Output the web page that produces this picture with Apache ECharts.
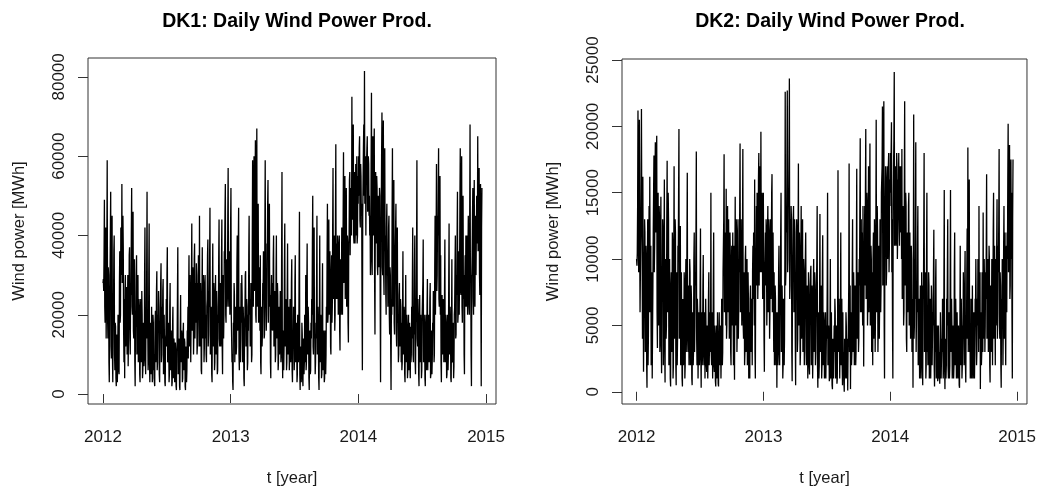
<!DOCTYPE html>
<html>
<head>
<meta charset="utf-8">
<script src="https://cdn.jsdelivr.net/npm/echarts@6/dist/echarts.min.js"></script>
<style>
  html, body { margin: 0; padding: 0; background: #ffffff; }
  #chart { width: 1039px; height: 492px; }
</style>
</head>
<body>
<div id="chart"></div>
<script>
// Daily wind power production in the two Danish price areas.
// One value per day starting 1 Jan 2012, stored in thousands of MWh.
const startYear = 2012;
const stepDays = 1;

// DK1 (West Denmark)
const dk1_2012 = [
  28,29, 26,35, 49,22, 18,34, 42,14, 24,38, 59,20, 14,32, 30,8, 3,22, 28,40, 51,12, 9,33, 45,10, 3,18, 20,36,
  40,10, 6,18, 17,4, 2,14, 15,3, 8,20, 16,6, 5,28, 36,18, 20,42, 40,30, 53,28, 30,45, 37,16, 8,24,
  4,26, 30,12, 12,24, 27,10, 22,30, 7,16, 18,35, 37,14, 10,28, 25,40, 52,22, 20,38, 46,16, 14,30, 34,8,
  2,20, 17,30, 35,10, 12,28, 30,8, 8,24, 22,5, 3,20, 24,8, 11,26, 20,4, 6,18, 17,7, 9,30, 42,12,
  5,20, 14,32, 51,14, 18,6, 10,30, 43,8, 3,18, 16,5, 8,22, 12,3, 4,20, 18,6, 10,3, 2,18, 21,8, 12,26,
  31,6, 8,20, 16,26, 22,5, 3,16, 18,28, 33,8, 10,22, 14,26, 29,5, 6,20, 20,3, 2,14, 15,24, 12,30,
  37,8, 9,18, 12,3, 5,22, 28,6, 8,16, 10,2, 3,17, 22,4, 7,14, 11,3, 4,13, 9,2, 1,11, 13,25,
  37,5, 6,14, 12,2, 1,16, 25,8, 10,16, 14,3, 4,15, 18,6, 8,14, 13,2, 1,12, 11,3, 6,16, 14,22, 9,25,
  35,12, 16,30, 22,8, 8,28, 43,16, 20,32, 26,10, 15,34, 38,14, 22,28, 18,33, 30,10, 12,28, 24,35, 20,12,
  45,12, 14,28, 22,6, 5,24, 37,14, 18,30, 25,8, 12,28, 30,14, 20,10, 8,22, 24,35, 39,12, 15,26, 22,34,
  47,10, 10,22, 20,5, 3,24, 38,12, 16,28, 24,6, 8,25, 30,10, 14,26, 22,5, 6,20, 18,34, 44,14, 12,26,
  28,12, 15,34, 44,12, 5,24, 30,14, 20,36, 35,46, 53,20, 18,34, 30,22, 25,45, 57,26, 22,36, 35,20, 28,42
];
const dk1_2013 = [
  52,20, 20,8, 10,3, 1,18, 15,28, 25,8, 8,22, 18,10, 12,32, 40,16, 20,38, 47,10, 6,20, 22,8, 14,28, 18,30,
  25,8, 10,22, 18,4, 2,18, 20,30, 31,12, 12,24, 22,6, 8,20, 16,35, 45,20, 24,12, 15,28, 20,8, 10,38,
  59,25, 22,48, 60,26, 30,52, 64,20, 18,45, 67,22, 25,42, 48,18, 20,32, 30,16, 35,8, 5,20, 22,12, 15,28,
  25,36, 32,14, 15,40, 59,28, 28,16, 20,38, 35,48, 54,18, 18,38, 48,22, 25,8, 4,24, 30,16, 22,28, 16,34,
  40,12, 12,26, 22,8, 10,30, 40,14, 18,28, 25,6, 8,22, 20,10, 14,26, 24,8, 10,36, 56,12, 4,16, 15,6, 12,32,
  43,12, 12,24, 20,6, 8,26, 38,10, 16,22, 18,6, 10,24, 22,8, 14,28, 34,6, 3,14, 12,22, 18,6, 10,28,
  35,8, 8,18, 14,3, 5,20, 18,8, 12,32, 46,5, 1,12, 10,3, 6,18, 15,4, 2,14, 12,5, 8,20, 16,8,
  30,6, 8,26, 38,10, 12,22, 18,4, 1,14, 16,5, 6,18, 14,24, 20,38, 50,12, 10,30, 42,14, 15,5, 8,18, 14,28,
  45,10, 12,22, 16,4, 1,18, 40,8, 10,20, 14,4, 5,22, 33,6, 8,16, 12,3, 4,16, 15,5, 10,22, 18,34,
  48,18, 20,38, 44,20, 25,36, 30,12, 10,28, 35,18, 22,42, 57,24, 28,40, 32,16, 20,45, 63,24, 30,38, 24,40,
  35,20, 22,38, 40,16, 11,34, 30,20, 25,42, 38,20, 20,45, 61,28, 30,48, 55,24, 24,44, 52,22, 28,40, 36,18,
  13,38, 40,54, 56,35, 35,52, 50,40, 75,44, 45,60, 68,40, 38,56, 55,38, 42,58, 50,40, 60,38, 40,55, 48,60
];
const dk1_2014 = [
  50,62, 65,44, 42,58, 55,45, 48,22, 6,45, 45,62, 68,50, 81.5,48, 52,60, 40,55, 55,62, 65,46, 48,60, 58,45, 50,40,
  45,30, 35,58, 76,36, 30,52, 65,40, 45,60, 67,28, 15,45, 56,38, 40,55, 52,32, 30,50, 48,32, 35,52, 50,22,
  3,38, 45,60, 71,32, 30,56, 69,30, 25,50, 62,36, 40,25, 20,42, 48,30, 35,22, 22,42, 45,20, 15,32, 30,12,
  1,22, 20,45, 62,22, 25,42, 54,18, 15,30, 30,42, 48,16, 12,30, 42,18, 20,8, 10,25, 28,12, 14,24, 22,8,
  18,6, 8,22, 36,10, 12,22, 20,5, 3,18, 30,8, 10,20, 16,4, 6,16, 20,6, 12,18, 8,4, 17,8, 10,22, 14,28,
  42,10, 8,20, 15,32, 40,8, 5,18, 20,35, 59,14, 12,24, 18,5, 2,18, 25,8, 10,20, 14,4, 6,20, 20,28,
  39,8, 8,20, 15,4, 2,18, 20,6, 10,22, 29,6, 6,20, 18,8, 12,24, 28,4, 5,16, 14,5, 9,18, 16,26,
  25,8, 10,32, 45,20, 20,40, 58,26, 30,45, 40,52, 62,24, 22,44, 55,20, 35,8, 3,20, 25,10, 15,24, 20,8, 12,26,
  39,8, 8,20, 15,4, 5,18, 20,6, 10,28, 43,10, 12,22, 18,4, 3,16, 34,8, 9,18, 16,4, 7,20, 22,32,
  40,14, 15,30, 25,40, 51,18, 20,36, 35,20, 30,48, 62,26, 25,45, 60,22, 18,38, 50,24, 30,10, 5,28, 35,22,
  40,22, 25,40, 30,20, 35,45, 45,22, 20,44, 68,28, 30,10, 2,30, 35,45, 52,24, 20,40, 54,28, 22,38, 45,30,
  30,50, 50,38, 65,36, 40,55, 57,30, 25,48, 53,24, 2,42, 52
];

// DK2 (East Denmark)
const dk2_2012 = [
  10,9.5, 10.5,14, 21.2,12, 9,15, 20.5,11, 6,9, 12,16, 21.3,13, 11,4, 16.2,8, 1.5,6, 8,13, 12,3, 4,11, 10,2, 0.3,9,
  13,2, 4,9, 14,6, 16.2,9, 6,11, 2,7, 9,1, 1,8, 12,15, 17.8,9, 11,16, 18.8,12, 14,17, 19.3,6, 3.3,12,
  15,5, 9,14, 13,3, 4,12, 14.7,4, 1.4,9, 8,13, 12,2, 6,11, 16,3, 0.7,10, 10,4, 5,13, 17.4,6, 8,15,
  13,2, 3,10, 10,1, 0.4,8, 9,3, 5,12, 11,1, 2,9, 17,4, 6,13, 12,2, 0.5,9, 8,2, 4,11, 10,15,
  19.8,4, 5,12, 12.5,2, 3,9, 9,1, 0.4,7, 7,2, 4,9, 8,1, 2,8, 10,3, 5,11, 16.5,4, 3,8, 8,2, 6,10,
  9,2, 4,8, 7,1, 0.5,6, 6,2, 3,10, 12,3, 5,9, 8,12, 18.1,4, 2,7, 6,1, 1,6, 5,2, 3,8,
  12.3,3, 0.3,6, 6,2, 3,8, 10.3,3, 2,6, 5,1, 4,7, 7,2, 1.5,5, 5,1, 3,7, 9,2, 2,5, 6,3,
  15,3, 2,6, 5,1, 3,8, 12,2, 1.5,5, 4,0.8, 0.4,4, 5,1, 2,6, 3,0.6, 0.4,4, 6,2, 2,5, 4,1, 3,7,
  6,2, 3,9, 9,13, 17.9,6, 7,12, 12,5, 15.3,4, 5,11, 14,6, 8,13, 13,4, 6,12, 10,3, 2,9, 11,5,
  8,12, 6,2, 11,4, 0.9,9, 14.7,5, 7,13, 12,3, 5,11, 13,4, 6,10, 9,14, 18.7,6, 8,13, 13,5, 7,12,
  18.3,5, 4,9, 8,2, 3,10, 11,3, 5,9, 10,2, 6,9, 7,1, 3,6, 1,7, 8,3, 4,7, 6,2, 9,11,
  7,12, 12,5, 16,3, 1,9, 10,14, 8,15, 14,7, 9,16, 18,8, 12,17, 16,9, 19.6,11, 9,15, 14,7, 11,15
];
const dk2_2013 = [
  15,4, 1.5,9, 10,12, 8,13, 12,5, 7,12, 14,6, 9,13, 11,4, 6,12, 13,7, 10,15, 16.4,6, 8,12, 12,3, 9,2,
  5,8, 7,2, 3,6, 0.3,5, 6,2, 4,9, 11,3, 2,6, 7,12, 15,3, 3,8, 6,1, 2,7, 5,2, 4,10,
  22.6,8, 9,14, 12,17, 22.7,9, 10,15, 14,18, 23.6,7, 8,13, 11,14, 13,3, 0.8,9, 10,13, 14,6, 9,13, 12,4,
  0.5,9, 8,13, 12,3, 4,11, 17.2,5, 7,12, 10,2, 3,10, 14,4, 5,11, 13,3, 6,10, 9,2, 3,8, 8,12,
  12,2, 4,8, 7,1, 3,9, 8,2, 1.3,6, 6,9, 9.5,2, 4,8, 7,1, 3,8, 10,3, 5,9, 8,2, 3,6, 6,10,
  14,2, 0.3,6, 5,1, 2,7, 13.4,3, 4,8, 6,1, 2,9, 11.8,2, 3,6, 5,1, 1.5,5, 6,1, 3,5, 4,8,
  15,2, 2,5, 4,0.8, 1,5, 10,1, 3,6, 2,0.5, 0.2,4, 4,1, 1,5, 3,7, 6,1, 2,5, 4,0.6, 1,6,
  16.7,3, 3,7, 5,1, 1,6, 12,2, 4,7, 2,0.5, 6,2, 3,0.8, 0,4, 4,1, 2,6, 5,1, 1,4, 0.1,3, 3,8,
  17.2,3, 4,8, 0.2,5, 6,2, 3,9, 13,3, 5,9, 7,2, 4,8, 6,2, 3,10, 16.8,4, 5,9, 7,3, 4,10,
  8,14, 19.1,6, 10,13, 6,12, 12,5, 14,9, 1.9,8, 10,14, 8,15, 19.8,7, 11,15, 14,5, 7,13, 17,6, 9,14,
  18.7,5, 6,11, 10,3, 5,9, 2,10, 12,4, 8,13, 11,3, 6,12, 20.5,6, 9,14, 12,3, 5,11, 10,4, 7,13,
  12,6, 8,15, 15,17, 21.5,8, 10,17, 21.9,5, 1,11, 14,17, 16,8, 9,15, 17,10, 12,17, 18,9, 11,16, 14,18
];
const dk2_2014 = [
  15,18, 20.3,9, 13,5, 1,14, 17,19, 24.1,11, 12,17, 16,11, 14,18, 17,10, 12,16, 15,18, 13,11, 16,17, 14,12, 17,10,
  18.3,7, 9,14, 12,5, 6,15, 21.9,8, 10,15, 14,4, 3,11, 12,6, 8,14, 15,5, 7,12, 12,4, 6,11, 10,3,
  4,7, 0.3,9, 20.9,4, 5,10, 7,13, 18.8,3, 3,8, 6,11, 14,2, 2,7, 5,1, 4,8, 7,1, 3,9, 6,2,
  0.5,8, 7,12, 18,3, 3,9, 8,1, 2,10, 15,3, 5,2, 4,9, 8,1, 2,7, 6,1, 3,8, 7,2, 2,6,
  5,9, 12.2,2, 0.4,4, 3,8, 10,1, 2,5, 4,0.8, 1,5, 5,1, 3,0.6, 2,6, 4,1, 1,4, 3,7, 5,1, 2,8,
  15.2,2, 0.2,4, 3,1, 2,7, 5,9, 13,2, 1,6, 4,1, 2,8, 15.2,3, 3,7, 5,1, 1,5, 4,1, 2,9,
  12,2, 3,7, 5,1, 2,6, 6,1, 1.5,5, 4,0.5, 0.3,5, 11,2, 3,7, 5,1, 2,5, 4,9, 6,2, 3,8,
  10.6,2, 0.7,5, 4,9, 12.3,4, 18.4,3, 3,10, 16,3, 5,1, 2,7, 6,1, 3,8, 4,1, 2,6, 5,1, 3,7, 6,10,
  10,2, 3,7, 5,10, 8,3, 14,4, 4,9, 0.2,6, 6,2, 3,9, 7,3, 13.5,5, 4,10, 8,3, 5,9, 7,11,
  16.4,4, 5,10, 8,3, 6,11, 10,2, 0.7,8, 7,3, 5,10, 9,2, 6,12, 15,4, 8,11, 6,2, 10,5, 7,11,
  14.5,4, 6,11, 9,13, 18.3,5, 4,9, 8,2, 0.3,7, 6,10, 7,2, 5,11, 14,4, 9,12, 5,2, 8,11, 6,12,
  10,16, 20.2,9, 14,18, 18.6,7, 8,15, 17.5,10, 15,6, 1,13, 17.5
];

const yearTicks = [2012, 2013, 2014, 2015];
const dk1Ticks = [0, 20000, 40000, 60000, 80000];
const dk2Ticks = [0, 5000, 10000, 15000, 20000, 25000];

// [decimal year, MWh]
function toSeries(values) {
  return values.map((v, i) => [startYear + (i * stepDays) / 365.25, v * 1000]);
}
const dk1Data = toSeries(dk1_2012.concat(dk1_2013, dk1_2014));
const dk2Data = toSeries(dk2_2012.concat(dk2_2013, dk2_2014));

const FONT = "'Liberation Sans', Arial, Helvetica, sans-serif";
const INK = '#1a1a1a';
const FRAME = '#333333';

function xAxisFor(gridIndex, min, max) {
  return {
    type: 'value', gridIndex, min, max,
    name: 't [year]', nameLocation: 'middle', nameGap: 66,
    nameTextStyle: { fontFamily: FONT, fontSize: 16.5, color: INK },
    axisLine: { show: false },
    axisTick: { show: true, inside: false, length: 9, customValues: yearTicks,
                lineStyle: { color: FRAME, width: 1 } },
    axisLabel: { show: true, customValues: yearTicks, margin: 25,
                 fontFamily: FONT, fontSize: 17, color: INK,
                 formatter: v => String(Math.round(v)) },
    splitLine: { show: false }
  };
}
function yAxisFor(gridIndex, min, max, ticks) {
  return {
    type: 'value', gridIndex, min, max,
    name: 'Wind power [MWh]', nameLocation: 'middle', nameGap: 60, nameRotate: 90,
    nameTextStyle: { fontFamily: FONT, fontSize: 16.5, color: INK },
    axisLine: { show: false },
    axisTick: { show: true, inside: false, length: 10, customValues: ticks,
                lineStyle: { color: FRAME, width: 1 } },
    axisLabel: { show: true, customValues: ticks, rotate: 90, margin: 20,
                 fontFamily: FONT, fontSize: 17, color: INK,
                 formatter: v => String(Math.round(v)) },
    splitLine: { show: false }
  };
}
function lineSeries(idx, data) {
  return {
    type: 'line', xAxisIndex: idx, yAxisIndex: idx, data,
    showSymbol: false, symbol: 'none', silent: true, sampling: null,
    lineStyle: { color: '#000000', width: 1.3, join: 'miter', miterLimit: 4 }
  };
}

const chart = echarts.init(document.getElementById('chart'), null, { renderer: 'canvas' });
chart.setOption({
  animation: false,
  backgroundColor: '#ffffff',
  title: [
    { text: 'DK1: Daily Wind Power Prod.', left: 292, top: 7, textAlign: 'center',
      textStyle: { fontFamily: FONT, fontSize: 19.5, fontWeight: 'bold', color: '#000' } },
    { text: 'DK2: Daily Wind Power Prod.', left: 825, top: 7, textAlign: 'center',
      textStyle: { fontFamily: FONT, fontSize: 19.5, fontWeight: 'bold', color: '#000' } }
  ],
  grid: [
    { left: 88, top: 58, width: 408, height: 348, show: true, borderColor: FRAME, borderWidth: 1, backgroundColor: 'transparent' },
    { left: 622, top: 59, width: 407, height: 347, show: true, borderColor: FRAME, borderWidth: 1, backgroundColor: 'transparent' }
  ],
  xAxis: [ xAxisFor(0, 2011.8825, 2015.078), xAxisFor(1, 2011.885, 2015.078) ],
  yAxis: [ yAxisFor(0, -2508, 84765, dk1Ticks), yAxisFor(1, -921, 25075, dk2Ticks) ],
  series: [ lineSeries(0, dk1Data), lineSeries(1, dk2Data) ]
});
</script>
</body>
</html>
